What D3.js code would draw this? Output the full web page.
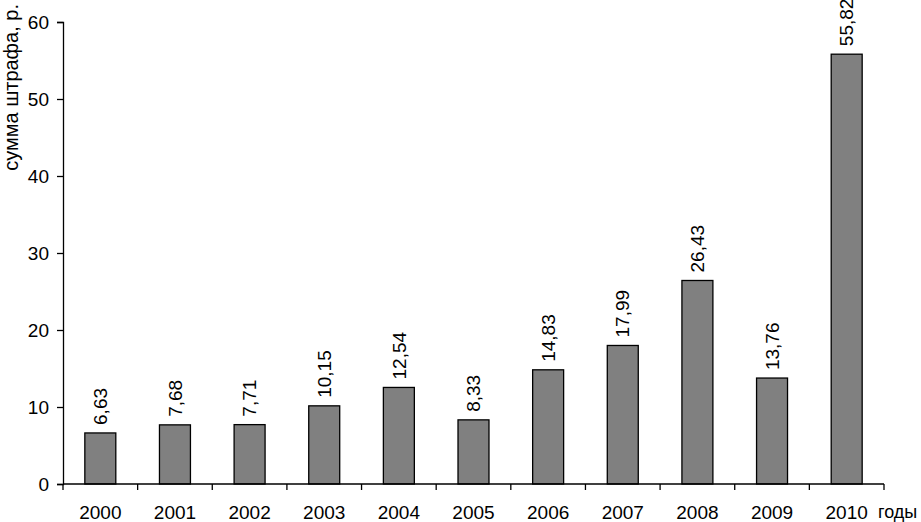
<!DOCTYPE html>
<html>
<head>
    <meta charset="utf-8">
    <script src="https://d3js.org/d3.v7.min.js"></script>
    <style>
        body { margin: 0; background: #fff; }
        text { font-family: "Liberation Sans", Arial, sans-serif; fill: #000; }
    </style>
</head>
<body>
    <div id="chart"></div>
    <script>
        var years = ["2000", "2001", "2002", "2003", "2004", "2005", "2006", "2007", "2008", "2009", "2010"];
        var fines = [6.63, 7.68, 7.71, 10.15, 12.54, 8.33, 14.83, 17.99, 26.43, 13.76, 55.82];
        var yTicks = [0, 10, 20, 30, 40, 50, 60];

        var margin = { top: 22, right: 37, bottom: 38, left: 63 },
            width = 921 - margin.left - margin.right,
            height = 522 - margin.top - margin.bottom;

        var svg = d3.select("#chart")
            .append("svg")
            .attr("width", 921)
            .attr("height", 522)
            .append("g")
            .attr("transform", "translate(" + margin.left + "," + margin.top + ")");

        // scales
        var x = d3.scaleBand()
            .domain(years)
            .range([0, width])
            .paddingInner(0.585)
            .paddingOuter(0.2925);

        var band = d3.scaleBand().domain(years).range([0, width]);

        var y = d3.scaleLinear()
            .domain([0, 60])
            .range([height, 0]);

        // bars
        svg.append("g")
            .selectAll("rect")
            .data(fines)
            .enter()
            .append("rect")
            .attr("x", function (d, i) { return x(years[i]); })
            .attr("y", function (d) { return y(d); })
            .attr("width", x.bandwidth())
            .attr("height", function (d) { return height - y(d); })
            .style("fill", "#808080")
            .style("stroke", "#000")
            .style("stroke-width", 1.3);

        // value labels
        svg.append("g")
            .selectAll("text")
            .data(fines)
            .enter()
            .append("text")
            .attr("transform", function (d, i) {
                return "translate(" + (x(years[i]) + x.bandwidth() / 2) + "," + (y(d) - 8) + ") rotate(-90)";
            })
            .attr("dy", "0.35em")
            .style("font-size", "19px")
            .text(function (d) { return d.toFixed(2).replace(".", ","); });

        // y axis
        var yAxis = svg.append("g")
            .call(d3.axisLeft(y).tickValues(yTicks).tickSize(6).tickPadding(8));
        yAxis.selectAll("text").style("font-size", "19px").attr("dy", "0.35em");
        yAxis.selectAll("line, path").attr("stroke-width", 1.3);

        // x axis with ticks at category boundaries
        var xAxis = svg.append("g")
            .attr("transform", "translate(0," + height + ")")
            .call(d3.axisBottom(band).tickSize(0));
        xAxis.selectAll("text").style("font-size", "19px").attr("y", 35).attr("dy", 0);
        xAxis.select(".domain").remove();
        xAxis.append("line")
            .attr("x1", 0).attr("x2", width)
            .attr("stroke", "#000").attr("stroke-width", 1.3);
        xAxis.selectAll(".bound")
            .data(years.concat(["end"]))
            .enter()
            .append("line")
            .attr("x1", function (d, i) { return i * band.step(); })
            .attr("x2", function (d, i) { return i * band.step(); })
            .attr("y1", 0).attr("y2", 6)
            .attr("stroke", "#000").attr("stroke-width", 1.3);

        // axis titles
        svg.append("text")
            .attr("transform", "rotate(-90)")
            .attr("x", margin.top - 4)
            .attr("y", -margin.left + 18)
            .attr("text-anchor", "end")
            .style("font-size", "20px")
            .text("сумма штрафа, р.");

        svg.append("text")
            .attr("x", width - 6)
            .attr("y", height + 34)
            .style("font-size", "18px")
            .text("годы");
    </script>
</body>
</html>
